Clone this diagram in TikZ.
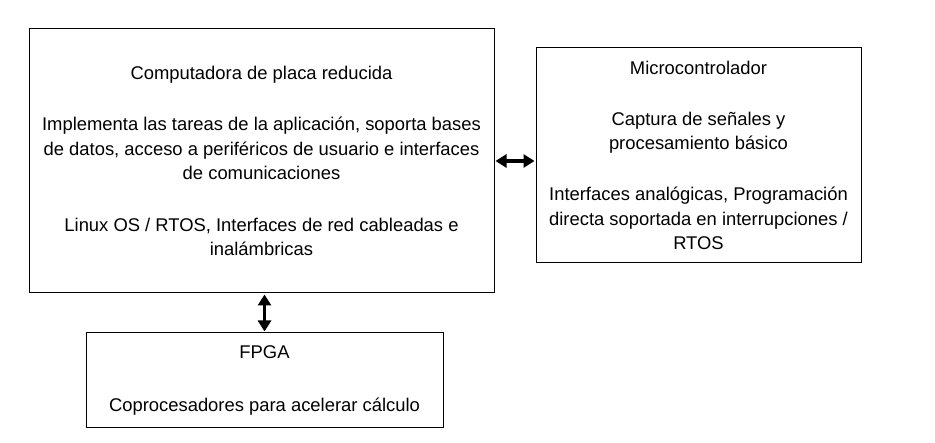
\documentclass[tikz,border=0pt]{standalone}
\usepackage{fontspec}
\setmainfont{Liberation Sans}
\usetikzlibrary{arrows.meta}
\begin{document}
\begin{tikzpicture}[x=1pt,y=-1pt,
  blk/.style={draw=black, line width=1pt, align=center, inner sep=0pt,
    font=\fontsize{18.4}{24.5}\selectfont},
  link/.style={line width=3.5pt, {Triangle[length=11pt,width=13pt]}-{Triangle[length=11pt,width=13pt]}, shorten <=1pt, shorten >=1pt}]
\useasboundingbox[fill=white] (0,0) rectangle (935,443);
\node[blk, minimum width=465pt, minimum height=264pt] (A) at (261.5,161)
 {Computadora de placa reducida\\[27pt]
  Implementa las tareas de la aplicación, soporta bases\\
  de datos, acceso a periféricos de usuario e interfaces\\
  de comunicaciones\\[27pt]
  Linux OS / RTOS, Interfaces de red cableadas e\\
  inalámbricas};
\node[blk, minimum width=325pt, minimum height=215pt] (B) at (698.5,155.5)
 {Microcontrolador\\[26.5pt]
  Captura de señales y\\
  procesamiento básico\\[26.5pt]
  Interfaces analógicas, Programación\\
  directa soportada en interrupciones /\\
  RTOS};
\node[blk, minimum width=357pt, minimum height=95pt] (C) at (264.5,380.5)
 {FPGA\\[28pt]
  Coprocesadores para acelerar cálculo};
\draw[link] (A.east) -- (A.east -| B.west);
\draw[link] (C.north |- A.south) -- (C.north);
\end{tikzpicture}
\end{document}
